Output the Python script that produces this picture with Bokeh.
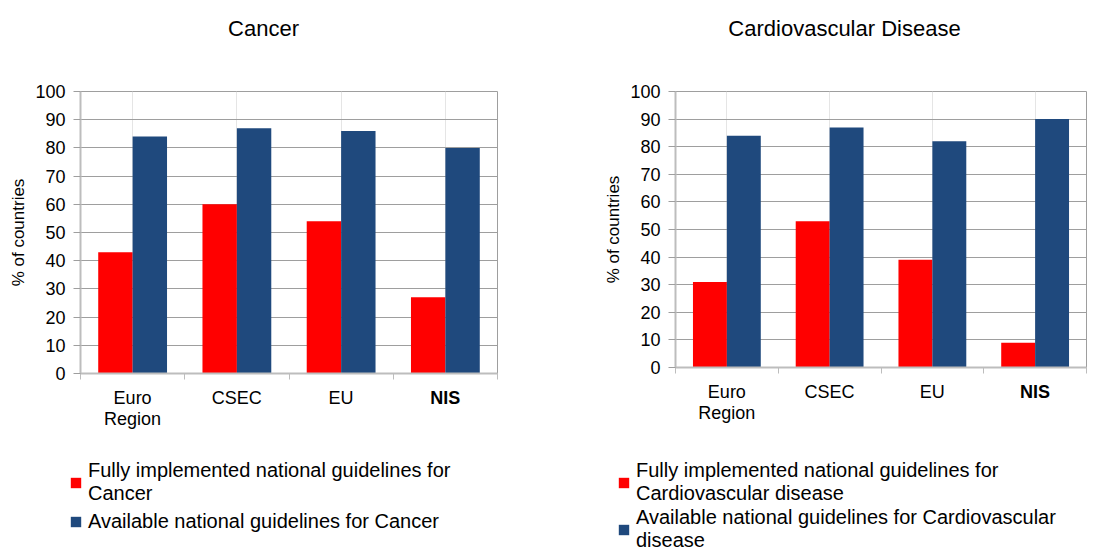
from bokeh.plotting import figure
from bokeh.models import (ColumnDataSource, FactorRange, Range1d, LinearAxis, FixedTicker,
                          Label, Legend, LegendItem)
from bokeh.transform import dodge
from bokeh.layouts import row, column
from bokeh.embed import file_html
from bokeh.resources import INLINE

categories = ["Euro Region", "CSEC", "EU", "NIS"]
cat_labels = ["Euro\nRegion", "CSEC", "EU", "NIS"]
cat_bold = [False, False, False, True]
y_ticks = [0, 10, 20, 30, 40, 50, 60, 70, 80, 90, 100]

cancer_full = [43, 60, 54, 27]
cancer_avail = [84, 87, 86, 80]
cvd_full = [31, 53, 39, 9]
cvd_avail = [84, 87, 82, 90]

titles = ["Cancer", "Cardiovascular Disease"]
leg_full = ["Fully implemented national guidelines for\nCancer",
            "Fully implemented national guidelines for\nCardiovascular disease"]
leg_avail = ["Available national guidelines for Cancer",
             "Available national guidelines for Cardiovascular\ndisease"]

FONT = "Liberation Sans"
RED = "#FF0000"
BLUE = "#1F497D"
GRID = "#9E9E9E"
AXIS = "#BDBDBD"


def bare_figure(width, height, left, top, **kw):
    p = figure(width=width, height=height, min_border_left=left, min_border_top=top,
               min_border_right=0, min_border_bottom=0,
               x_axis_location=None, y_axis_location=None, toolbar_location=None,
               output_backend="svg", background_fill_color="white",
               border_fill_color="white", **kw)
    p.title = None
    p.outline_line_color = None
    p.xgrid.visible = False
    p.ygrid.visible = False
    return p


def add_bars(p, src, visible=True):
    r1 = p.vbar(x=dodge("cat", -0.165, range=p.x_range), top="full", width=0.33,
                source=src, fill_color=RED, line_color=None, visible=visible)
    r2 = p.vbar(x=dodge("cat", 0.165, range=p.x_range), top="avail", width=0.33,
                source=src, fill_color=BLUE, line_color=None, visible=visible)
    return r1, r2


def make_title(text, *, width, height, cx):
    p = bare_figure(width, height, 0, 0, x_range=Range1d(0, 1), y_range=Range1d(0, 1))
    p.add_layout(Label(x=cx, y=height / 2, x_units="screen", y_units="screen", text=text,
                       text_font=FONT, text_font_size="22px", text_align="center",
                       text_baseline="middle", text_color="black"))
    return p


def make_chart(src, *, width, height, bl, bt, fw, fh):
    p = figure(x_range=FactorRange(*categories), y_range=Range1d(0, 100),
               width=width, height=height, frame_width=fw, frame_height=fh,
               min_border_left=bl, min_border_top=bt,
               min_border_right=width - bl - fw, min_border_bottom=height - bt - fh,
               x_axis_location=None, toolbar_location=None, output_backend="svg",
               background_fill_color="white", border_fill_color="white")
    p.outline_line_color = GRID
    p.outline_line_width = 1
    add_bars(p, src)

    # y axis
    ya = p.yaxis[0]
    ya.ticker = FixedTicker(ticks=y_ticks)
    ya.axis_label = "% of countries"
    ya.axis_label_text_font = FONT
    ya.axis_label_text_font_size = "17px"
    ya.axis_label_text_font_style = "normal"
    ya.axis_label_text_color = "black"
    ya.axis_label_standoff = 4
    ya.major_label_text_font = FONT
    ya.major_label_text_font_size = "18px"
    ya.major_label_text_color = "black"
    ya.major_label_standoff = 8
    ya.major_tick_in = 0
    ya.major_tick_out = 7
    ya.major_tick_line_color = GRID
    ya.minor_tick_line_color = None
    ya.axis_line_color = AXIS
    ya.axis_line_width = 2
    p.ygrid.ticker = FixedTicker(ticks=y_ticks)
    p.ygrid.grid_line_color = GRID
    p.ygrid.grid_line_width = 1

    # x axis: labels at category centres, tick marks between categories
    centers = [i + 0.5 for i in range(len(categories))]
    bounds = list(range(len(categories) + 1))
    norm = [c for c, b in zip(centers, cat_bold) if not b]
    bold = [c for c, b in zip(centers, cat_bold) if b]
    xa = LinearAxis(ticker=FixedTicker(ticks=norm, minor_ticks=bounds),
                    major_label_overrides={c: l for c, l, b in zip(centers, cat_labels, cat_bold) if not b})
    xa.major_label_text_font = FONT
    xa.major_label_text_font_size = "18px"
    xa.major_label_text_color = "black"
    xa.major_label_text_line_height = 1.05
    xa.major_label_standoff = 8
    xa.major_tick_in = 0
    xa.major_tick_out = 0
    xa.major_tick_line_color = None
    xa.minor_tick_in = 0
    xa.minor_tick_out = 6
    xa.minor_tick_line_color = AXIS
    xa.axis_line_color = AXIS
    xa.axis_line_width = 2
    p.add_layout(xa, "below")

    xb = LinearAxis(ticker=FixedTicker(ticks=bold, minor_ticks=[]),
                    major_label_overrides={c: l for c, l, b in zip(centers, cat_labels, cat_bold) if b})
    xb.major_label_text_font = FONT
    xb.major_label_text_font_size = "18px"
    xb.major_label_text_font_style = "bold"
    xb.major_label_text_color = "black"
    xb.major_label_standoff = -44
    xb.major_tick_in = 0
    xb.major_tick_out = 0
    xb.major_tick_line_color = None
    xb.minor_tick_line_color = None
    xb.axis_line_color = None
    p.add_layout(xb, "below")
    return p


def make_legend(src, lab_full, lab_avail, *, width, height, left, top, spacing, lh):
    p = bare_figure(width, height, left, top,
                    x_range=FactorRange(*categories), y_range=Range1d(0, 100))
    r1, r2 = add_bars(p, src, visible=False)
    legend = Legend(items=[LegendItem(label=lab_full, renderers=[r1]),
                           LegendItem(label=lab_avail, renderers=[r2])],
                    location="top_left", orientation="vertical", padding=0, margin=0,
                    border_line_alpha=0, background_fill_alpha=0,
                    label_text_font=FONT, label_text_font_size="20px",
                    label_text_color="black", label_text_line_height=lh,
                    glyph_height=13, glyph_width=13, label_standoff=6,
                    spacing=spacing)
    p.add_layout(legend)
    return p


src1 = ColumnDataSource(dict(cat=categories, full=cancer_full, avail=cancer_avail))
src2 = ColumnDataSource(dict(cat=categories, full=cvd_full, avail=cvd_avail))

W1, W2 = 560, 544
HT, H1, HTOT = 56, 384, 550

t1 = make_title(titles[0], width=W1, height=HT, cx=263)
t2 = make_title(titles[1], width=W2, height=HT, cx=284)
p1 = make_chart(src1, width=W1, height=H1, bl=80, bt=91 - HT, fw=417, fh=282)
p2 = make_chart(src2, width=W2, height=H1, bl=115, bt=88 - HT, fw=411, fh=276)
l1 = make_legend(src1, leg_full[0], leg_avail[0], width=W1, height=HTOT - HT - H1,
                 left=69, top=0, spacing=5, lh=1.1)
l2 = make_legend(src2, leg_full[1], leg_avail[1], width=W2, height=HTOT - HT - H1,
                 left=57, top=19, spacing=1, lh=1.05)

layout = column(row(t1, t2, spacing=0), row(p1, p2, spacing=0), row(l1, l2, spacing=0),
                spacing=0)
open("out.html", "w").write(file_html(layout, INLINE))
